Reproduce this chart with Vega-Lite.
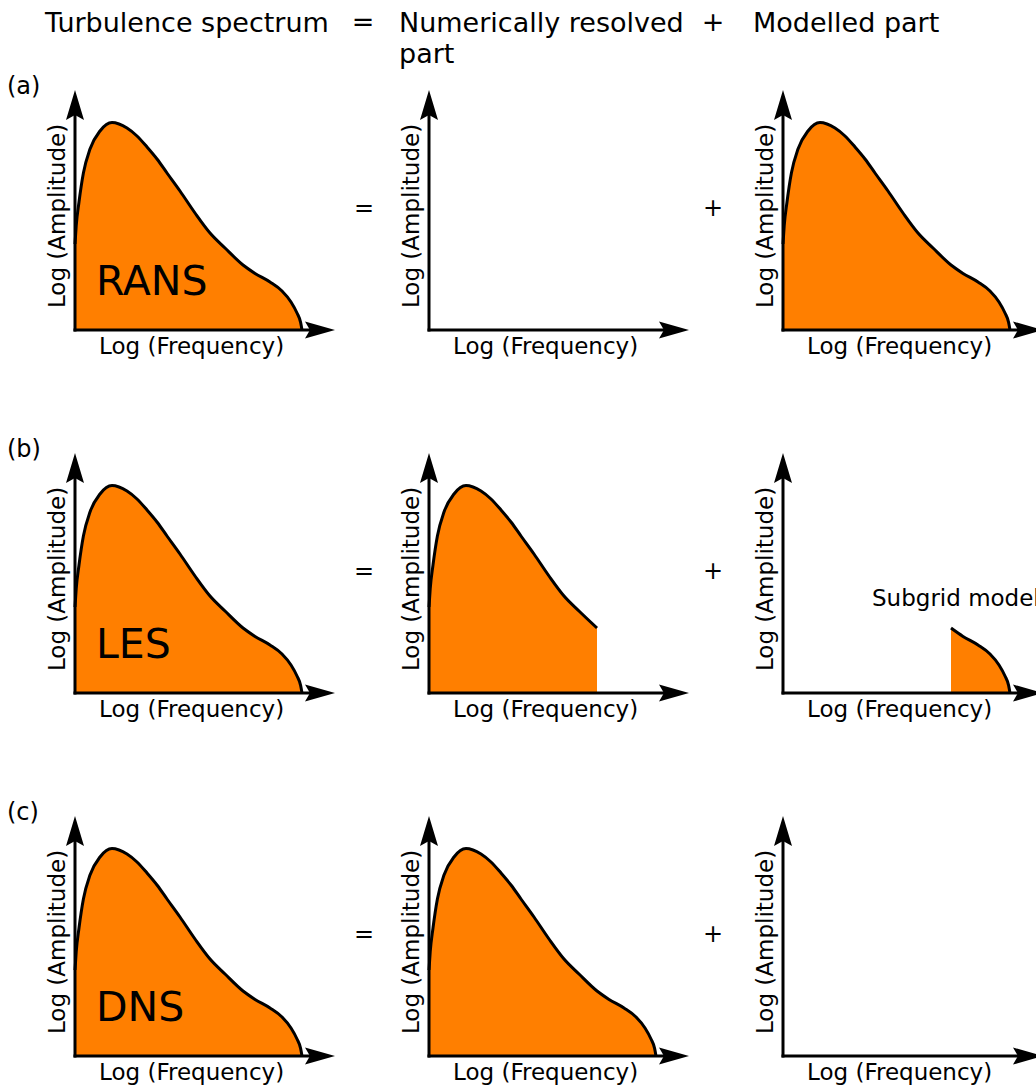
{
  "$schema": "https://vega.github.io/schema/vega-lite/v6.json",
  "padding": {"left": 7, "top": 9, "right": 0, "bottom": 0},
  "data": {
    "values": [
      {"kind": "frame", "r": 1, "c": 1},
      {"kind": "frame", "r": 1, "c": 2},
      {"kind": "frame", "r": 1, "c": 3},
      {"kind": "frame", "r": 2, "c": 1},
      {"kind": "frame", "r": 2, "c": 2},
      {"kind": "frame", "r": 2, "c": 3},
      {"kind": "frame", "r": 3, "c": 1},
      {"kind": "frame", "r": 3, "c": 2},
      {"kind": "frame", "r": 3, "c": 3},
      {"kind": "curve", "r": 1, "c": 1,
       "xs": [0, 0.06, 0.2, 0.42, 0.75, 1.25, 1.85, 2.2, 2.6, 3.1, 3.6, 4.1, 4.6, 5.25, 6.0, 6.75, 7.5, 8.4, 9.0, 9.75, 10.35, 10.8, 11.1, 11.28, 11.35],
       "ys": [4.3, 5.2, 6.4, 7.85, 9.05, 9.95, 10.37, 10.3, 10.1, 9.7, 9.15, 8.55, 7.85, 6.95, 5.85, 4.85, 4.1, 3.25, 2.83, 2.4, 1.95, 1.4, 0.85, 0.38, 0]},
      {"kind": "curve", "r": 1, "c": 3,
       "xs": [0, 0.06, 0.2, 0.42, 0.75, 1.25, 1.85, 2.2, 2.6, 3.1, 3.6, 4.1, 4.6, 5.25, 6.0, 6.75, 7.5, 8.4, 9.0, 9.75, 10.35, 10.8, 11.1, 11.28, 11.35],
       "ys": [4.3, 5.2, 6.4, 7.85, 9.05, 9.95, 10.37, 10.3, 10.1, 9.7, 9.15, 8.55, 7.85, 6.95, 5.85, 4.85, 4.1, 3.25, 2.83, 2.4, 1.95, 1.4, 0.85, 0.38, 0]},
      {"kind": "curve", "r": 2, "c": 1,
       "xs": [0, 0.06, 0.2, 0.42, 0.75, 1.25, 1.85, 2.2, 2.6, 3.1, 3.6, 4.1, 4.6, 5.25, 6.0, 6.75, 7.5, 8.4, 9.0, 9.75, 10.35, 10.8, 11.1, 11.28, 11.35],
       "ys": [4.3, 5.2, 6.4, 7.85, 9.05, 9.95, 10.37, 10.3, 10.1, 9.7, 9.15, 8.55, 7.85, 6.95, 5.85, 4.85, 4.1, 3.25, 2.83, 2.4, 1.95, 1.4, 0.85, 0.38, 0]},
      {"kind": "curve", "r": 2, "c": 2,
       "xs": [0, 0.06, 0.2, 0.42, 0.75, 1.25, 1.85, 2.2, 2.6, 3.1, 3.6, 4.1, 4.6, 5.25, 6.0, 6.75, 7.5, 8.4],
       "ys": [4.3, 5.2, 6.4, 7.85, 9.05, 9.95, 10.37, 10.3, 10.1, 9.7, 9.15, 8.55, 7.85, 6.95, 5.85, 4.85, 4.1, 3.25]},
      {"kind": "curve", "r": 2, "c": 3,
       "xs": [8.4, 9.0, 9.75, 10.35, 10.8, 11.1, 11.28, 11.35],
       "ys": [3.25, 2.83, 2.4, 1.95, 1.4, 0.85, 0.38, 0]},
      {"kind": "curve", "r": 3, "c": 1,
       "xs": [0, 0.06, 0.2, 0.42, 0.75, 1.25, 1.85, 2.2, 2.6, 3.1, 3.6, 4.1, 4.6, 5.25, 6.0, 6.75, 7.5, 8.4, 9.0, 9.75, 10.35, 10.8, 11.1, 11.28, 11.35],
       "ys": [4.3, 5.2, 6.4, 7.85, 9.05, 9.95, 10.37, 10.3, 10.1, 9.7, 9.15, 8.55, 7.85, 6.95, 5.85, 4.85, 4.1, 3.25, 2.83, 2.4, 1.95, 1.4, 0.85, 0.38, 0]},
      {"kind": "curve", "r": 3, "c": 2,
       "xs": [0, 0.06, 0.2, 0.42, 0.75, 1.25, 1.85, 2.2, 2.6, 3.1, 3.6, 4.1, 4.6, 5.25, 6.0, 6.75, 7.5, 8.4, 9.0, 9.75, 10.35, 10.8, 11.1, 11.28, 11.35],
       "ys": [4.3, 5.2, 6.4, 7.85, 9.05, 9.95, 10.37, 10.3, 10.1, 9.7, 9.15, 8.55, 7.85, 6.95, 5.85, 4.85, 4.1, 3.25, 2.83, 2.4, 1.95, 1.4, 0.85, 0.38, 0]},
      {"kind": "name", "r": 1, "c": 1, "text": "RANS"},
      {"kind": "name", "r": 2, "c": 1, "text": "LES"},
      {"kind": "name", "r": 3, "c": 1, "text": "DNS"},
      {"kind": "tag", "r": 1, "c": 1, "text": "(a)"},
      {"kind": "tag", "r": 2, "c": 1, "text": "(b)"},
      {"kind": "tag", "r": 3, "c": 1, "text": "(c)"},
      {"kind": "op", "r": 1, "c": 1, "text": "="},
      {"kind": "op", "r": 2, "c": 1, "text": "="},
      {"kind": "op", "r": 3, "c": 1, "text": "="},
      {"kind": "op", "r": 1, "c": 2, "text": "+"},
      {"kind": "op", "r": 2, "c": 2, "text": "+"},
      {"kind": "op", "r": 3, "c": 2, "text": "+"},
      {"kind": "headop", "r": 1, "c": 1, "text": "="},
      {"kind": "headop", "r": 1, "c": 2, "text": "+"},
      {"kind": "head", "r": 1, "c": 1, "text": "Turbulence spectrum"},
      {"kind": "head", "r": 1, "c": 2, "text": "Numerically resolved\npart"},
      {"kind": "head", "r": 1, "c": 3, "text": "Modelled part"},
      {"kind": "note", "r": 2, "c": 3, "text": "Subgrid model"}
    ]
  },
  "facet": {
    "row": {"field": "r", "type": "ordinal", "header": null},
    "column": {"field": "c", "type": "ordinal", "header": null}
  },
  "spacing": {"row": 123, "column": 94},
  "bounds": "flush",
  "spec": {
    "width": 260,
    "height": 240,
    "layer": [
      {
        "transform": [
          {"filter": "datum.kind === 'curve'"},
          {"flatten": ["xs", "ys"], "as": ["x", "y"]}
        ],
        "encoding": {
          "x": {"field": "x", "type": "quantitative", "scale": {"domain": [0, 13], "nice": false, "zero": false}, "axis": null},
          "y": {"field": "y", "type": "quantitative", "scale": {"domain": [0, 12], "nice": false, "zero": false}, "axis": null}
        },
        "layer": [
          {"mark": {"type": "area", "interpolate": "monotone", "color": "#ff7f00"}},
          {"mark": {"type": "line", "interpolate": "monotone", "color": "black", "strokeWidth": 3, "strokeJoin": "round"}}
        ]
      },
      {
        "transform": [{"filter": "datum.kind === 'frame'"}],
        "layer": [
          {
            "mark": {"type": "rule", "color": "black", "strokeWidth": 3, "strokeCap": "square"},
            "encoding": {
              "x": {"datum": 0, "type": "quantitative"},
              "y": {"datum": 0, "type": "quantitative"},
              "y2": {"datum": 11}
            }
          },
          {
            "mark": {"type": "rule", "color": "black", "strokeWidth": 3, "strokeCap": "square"},
            "encoding": {
              "x": {"datum": 0, "type": "quantitative"},
              "x2": {"datum": 12},
              "y": {"datum": 0, "type": "quantitative"}
            }
          },
          {
            "mark": {"type": "point", "shape": "M0,0L0.6,2L0,1.67L-0.6,2Z", "size": 900, "filled": true, "color": "black", "opacity": 1, "strokeWidth": 0},
            "encoding": {
              "x": {"datum": 0, "type": "quantitative"},
              "y": {"datum": 12, "type": "quantitative"}
            }
          },
          {
            "mark": {"type": "point", "shape": "M0,0L-2,-0.57L-1.67,0L-2,0.57Z", "size": 900, "filled": true, "color": "black", "opacity": 1, "strokeWidth": 0},
            "encoding": {
              "x": {"datum": 13, "type": "quantitative"},
              "y": {"datum": 0, "type": "quantitative"}
            }
          },
          {
            "mark": {"type": "text", "font": "DejaVu Sans", "fontSize": 23, "align": "center", "baseline": "alphabetic", "color": "black"},
            "encoding": {
              "x": {"datum": 5.83, "type": "quantitative"},
              "y": {"datum": -1.22, "type": "quantitative"},
              "text": {"value": "Log (Frequency)"}
            }
          },
          {
            "mark": {"type": "text", "font": "DejaVu Sans", "fontSize": 23, "align": "center", "baseline": "alphabetic", "angle": 270, "color": "black"},
            "encoding": {
              "x": {"datum": -0.5, "type": "quantitative"},
              "y": {"datum": 5.7, "type": "quantitative"},
              "text": {"value": "Log (Amplitude)"}
            }
          }
        ]
      },
      {
        "transform": [{"filter": "datum.kind === 'name'"}],
        "mark": {"type": "text", "font": "DejaVu Sans", "fontSize": 41, "align": "left", "baseline": "alphabetic", "color": "black"},
        "encoding": {
          "x": {"datum": 1.05, "type": "quantitative"},
          "y": {"datum": 1.75, "type": "quantitative"},
          "text": {"field": "text", "type": "nominal"}
        }
      },
      {
        "transform": [{"filter": "datum.kind === 'tag'"}],
        "mark": {"type": "text", "font": "DejaVu Sans", "fontSize": 24, "align": "left", "baseline": "alphabetic", "color": "black"},
        "encoding": {
          "x": {"datum": -3.4, "type": "quantitative"},
          "y": {"datum": 11.8, "type": "quantitative"},
          "text": {"field": "text", "type": "nominal"}
        }
      },
      {
        "transform": [{"filter": "datum.kind === 'op' && datum.text === '='"}],
        "mark": {"type": "text", "font": "DejaVu Sans", "fontSize": 24, "align": "center", "baseline": "alphabetic", "color": "black"},
        "encoding": {
          "x": {"datum": 14.45, "type": "quantitative"},
          "y": {"datum": 5.7, "type": "quantitative"},
          "text": {"field": "text", "type": "nominal"}
        }
      },
      {
        "transform": [{"filter": "datum.kind === 'op' && datum.text === '+'"}],
        "mark": {"type": "text", "font": "DejaVu Sans", "fontSize": 24, "align": "center", "baseline": "alphabetic", "color": "black"},
        "encoding": {
          "x": {"datum": 14.2, "type": "quantitative"},
          "y": {"datum": 5.7, "type": "quantitative"},
          "text": {"field": "text", "type": "nominal"}
        }
      },
      {
        "transform": [{"filter": "datum.kind === 'headop' && datum.text === '='"}],
        "mark": {"type": "text", "font": "DejaVu Sans", "fontSize": 27, "align": "center", "baseline": "alphabetic", "color": "black"},
        "encoding": {
          "x": {"datum": 14.4, "type": "quantitative"},
          "y": {"datum": 14.95, "type": "quantitative"},
          "text": {"field": "text", "type": "nominal"}
        }
      },
      {
        "transform": [{"filter": "datum.kind === 'headop' && datum.text === '+'"}],
        "mark": {"type": "text", "font": "DejaVu Sans", "fontSize": 27, "align": "center", "baseline": "alphabetic", "color": "black"},
        "encoding": {
          "x": {"datum": 14.2, "type": "quantitative"},
          "y": {"datum": 14.95, "type": "quantitative"},
          "text": {"field": "text", "type": "nominal"}
        }
      },
      {
        "transform": [{"filter": "datum.kind === 'head'"}],
        "mark": {"type": "text", "font": "DejaVu Sans", "fontSize": 27, "align": "left", "baseline": "alphabetic", "lineBreak": "\n", "lineHeight": 31, "color": "black"},
        "encoding": {
          "x": {"datum": -1.5, "type": "quantitative"},
          "y": {"datum": 14.9, "type": "quantitative"},
          "text": {"field": "text", "type": "nominal"}
        }
      },
      {
        "transform": [{"filter": "datum.kind === 'note'"}],
        "mark": {"type": "text", "font": "DejaVu Sans", "fontSize": 23, "align": "left", "baseline": "alphabetic", "color": "black"},
        "encoding": {
          "x": {"datum": 4.45, "type": "quantitative"},
          "y": {"datum": 4.35, "type": "quantitative"},
          "text": {"field": "text", "type": "nominal"}
        }
      }
    ]
  },
  "config": {
    "view": {"stroke": null},
    "axis": {"disable": true},
    "font": "DejaVu Sans"
  }
}
